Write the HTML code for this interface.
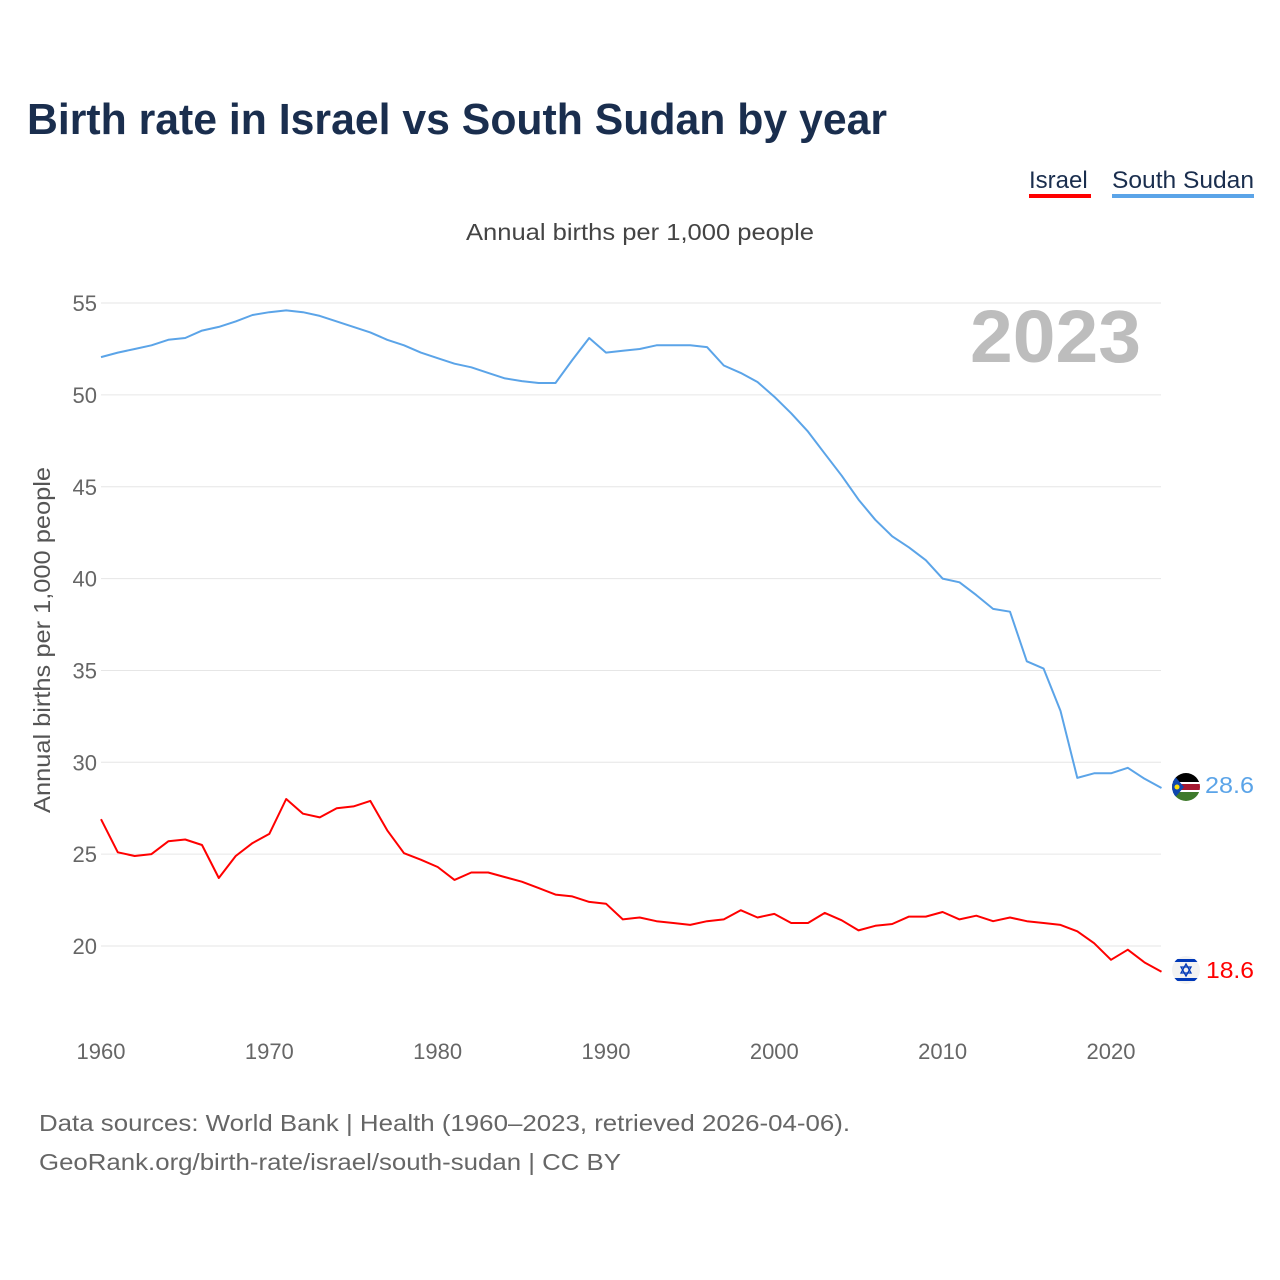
<!DOCTYPE html>
<html><head><meta charset="utf-8"><style>
body{margin:0;background:#fff;font-family:"Liberation Sans",sans-serif}
svg{display:block}
</style></head><body>
<svg width="1280" height="1280" viewBox="0 0 1280 1280">
<rect width="1280" height="1280" fill="#fff"/>
<text x="27" y="134" font-size="44" font-weight="bold" fill="#1a2e4e" textLength="860" lengthAdjust="spacingAndGlyphs">Birth rate in Israel vs South Sudan by year</text>
<g>
<text x="1029" y="188" font-size="24" fill="#1a2e4e">Israel</text>
<rect x="1029" y="194" width="62" height="4" fill="#ff0000"/>
<text x="1112" y="188" font-size="24" fill="#1a2e4e" textLength="142" lengthAdjust="spacingAndGlyphs">South Sudan</text>
<rect x="1112" y="194" width="142" height="4" fill="#5ba4e8"/>
</g>
<text x="466" y="240" font-size="23" fill="#444" textLength="348" lengthAdjust="spacingAndGlyphs">Annual births per 1,000 people</text>
<text x="970" y="362" font-size="74" font-weight="bold" fill="#bdbdbd" textLength="171" lengthAdjust="spacingAndGlyphs">2023</text>
<text transform="translate(50,640) rotate(-90)" font-size="23" fill="#555" text-anchor="middle" textLength="346" lengthAdjust="spacingAndGlyphs">Annual births per 1,000 people</text>
<g id="grid"></g><g id="yticks"></g><g id="xticks"></g><g id="lines"></g>
<g>
<clipPath id="c1"><circle cx="1186" cy="787" r="14"/></clipPath>
<g clip-path="url(#c1)">
<rect x="1172" y="773" width="28" height="9" fill="#000"/><rect x="1172" y="782" width="28" height="10" fill="#fff"/><rect x="1172" y="784" width="28" height="6" fill="#a51931"/><rect x="1172" y="792" width="28" height="9" fill="#3e7a2b"/><polygon points="1172,773 1184,787 1172,801" fill="#0f47af"/><circle cx="1177" cy="787" r="2.5" fill="#fcdd09"/></g>
<clipPath id="c2"><circle cx="1186" cy="970" r="14"/></clipPath>
<g clip-path="url(#c2)">
<rect x="1172" y="956" width="28" height="28" fill="#f2f2f2"/><rect x="1172" y="959" width="28" height="3" fill="#0038b8"/><rect x="1172" y="978" width="28" height="3" fill="#0038b8"/><polygon points="1186,964 1191,973 1181,973" fill="none" stroke="#0038b8" stroke-width="1.3"/><polygon points="1186,976 1191,967 1181,967" fill="none" stroke="#0038b8" stroke-width="1.3"/></g>
<text x="1205" y="793" font-size="23" fill="#5ba4e8" textLength="49" lengthAdjust="spacingAndGlyphs">28.6</text>
<text x="1206" y="978" font-size="23" fill="#ff0000" textLength="48" lengthAdjust="spacingAndGlyphs">18.6</text>
</g>
<text x="39" y="1131" font-size="23" fill="#666" textLength="811" lengthAdjust="spacingAndGlyphs">Data sources: World Bank | Health (1960–2023, retrieved 2026-04-06).</text>
<text x="39" y="1170" font-size="23" fill="#666" textLength="582" lengthAdjust="spacingAndGlyphs">GeoRank.org/birth-rate/israel/south-sudan | CC BY</text>
</svg>
<script>
const years=[];for(let y=1960;y<=2023;y++)years.push(y);
const southSudan=[52.06,52.3,52.5,52.7,53.0,53.1,53.5,53.7,54.0,54.35,54.5,54.6,54.5,54.3,54.0,53.7,53.4,53.0,52.7,52.3,52.0,51.7,51.5,51.2,50.9,50.75,50.65,50.65,51.9,53.1,52.3,52.4,52.5,52.7,52.7,52.7,52.6,51.6,51.2,50.7,49.9,49.0,48.0,46.8,45.6,44.3,43.2,42.3,41.7,41.0,40.0,39.8,39.1,38.35,38.2,35.5,35.1,32.8,29.15,29.4,29.4,29.7,29.1,28.6];
const israel=[26.9,25.1,24.9,25.0,25.7,25.8,25.5,23.7,24.9,25.6,26.1,28.0,27.2,27.0,27.5,27.6,27.9,26.3,25.05,24.7,24.3,23.6,24.0,24.0,23.75,23.5,23.15,22.8,22.7,22.4,22.3,21.45,21.55,21.35,21.25,21.15,21.35,21.45,21.95,21.55,21.75,21.25,21.25,21.8,21.4,20.85,21.1,21.2,21.6,21.6,21.85,21.45,21.65,21.35,21.55,21.35,21.25,21.15,20.8,20.15,19.25,19.8,19.1,18.6];
const yTicks=[20,25,30,35,40,45,50,55];
const xTicks=[1960,1970,1980,1990,2000,2010,2020];
const NS="http://www.w3.org/2000/svg";
const xs=y=>101+(y-1960)*16.833;
const ys=v=>946-(v-20)*18.37;
function mk(tag,attrs,parent){const e=document.createElementNS(NS,tag);for(const k in attrs)e.setAttribute(k,attrs[k]);document.getElementById(parent).appendChild(e);return e;}
yTicks.forEach(t=>{
 const l=mk('line',{x1:101,x2:1161,y1:ys(t),y2:ys(t),stroke:'#e6e6e6','stroke-width':1},'grid');
 
 
 const tx=mk('text',{x:97,y:ys(t)+8,'font-size':22,fill:'#666','text-anchor':'end'},'yticks');
 tx.textContent=t;
 
 
});
xTicks.forEach(t=>{
 const tx=mk('text',{x:xs(t),y:1059,'font-size':22,fill:'#666','text-anchor':'middle'},'xticks');
 tx.textContent=t;
 
 
});
function line(vals,color,name){
 const d=vals.map((v,i)=>(i?'L':'M')+xs(years[i]).toFixed(1)+','+ys(v).toFixed(1)).join('');
 const p=mk('path',{d:d,fill:'none',stroke:color,'stroke-width':2,'stroke-linejoin':'round'},'lines');
 
 
}
line(southSudan,'#5ba4e8','south-sudan-line');
line(israel,'#ff0000','israel-line');
</script>
</body></html>
